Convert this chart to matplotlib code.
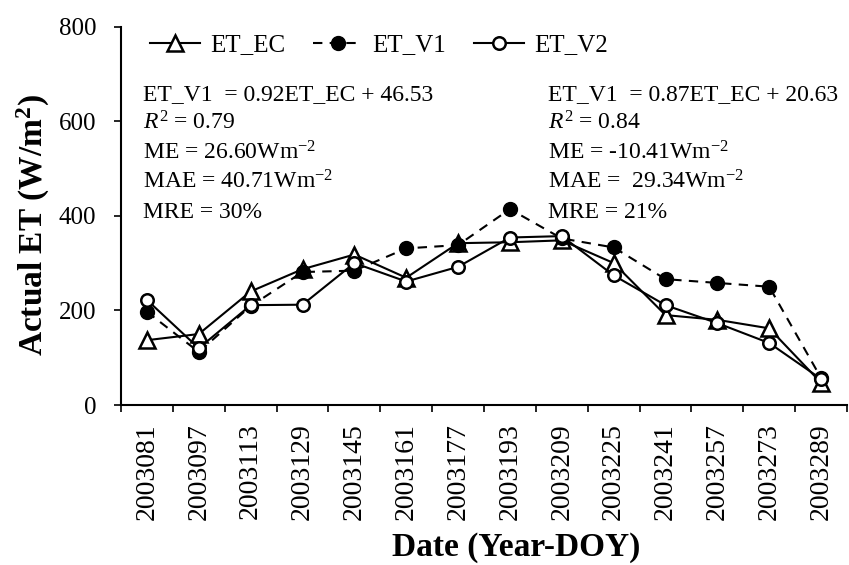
import matplotlib
matplotlib.use("Agg")
import matplotlib.pyplot as plt
import numpy as np

dates = ["2003081", "2003097", "2003113", "2003129", "2003145", "2003161", "2003177",
         "2003193", "2003209", "2003225", "2003241", "2003257", "2003273", "2003289"]
et_ec = [137, 150, 240, 287, 318, 269, 342, 344, 348, 300, 190, 180, 162, 47]
et_v1 = [197, 112, 209, 281, 284, 331, 338, 414, 352, 333, 266, 258, 250, 57]
et_v2 = [222, 120, 211, 212, 300, 261, 292, 354, 357, 274, 211, 173, 131, 55]

left_txt = ["ET_V1  = 0.92ET_EC + 46.53", "$R^2$ = 0.79", "ME = 26.60Wm$^{-2}$",
            "MAE = 40.71Wm$^{-2}$", "MRE = 30%"]
right_txt = ["ET_V1  = 0.87ET_EC + 20.63", "$R^2$ = 0.84", "ME = -10.41Wm$^{-2}$",
             "MAE =  29.34Wm$^{-2}$", "MRE = 21%"]

plt.rcParams['font.family'] = ['Liberation Serif', 'DejaVu Serif']
plt.rcParams['mathtext.fontset'] = 'custom'
plt.rcParams['mathtext.rm'] = 'Liberation Serif'
plt.rcParams['mathtext.it'] = 'Liberation Serif:italic'
plt.rcParams['mathtext.bf'] = 'Liberation Serif:bold'

fig = plt.figure(figsize=(8.49, 5.65), dpi=100)
ax = fig.add_axes([121 / 849, 1 - 405 / 565, 726 / 849, 378.5 / 565])

x = np.arange(len(dates))
ax.plot(x, et_ec, '-', color='black', lw=1.5, marker='^', ms=11, mfc='white',
        mec='black', mew=1.8, label='ET_EC', zorder=3)
ax.plot(x, et_v1, '--', color='black', lw=1.5, dashes=(4.5, 3.5), marker='o', ms=10,
        mfc='black', mec='black', label='ET_V1', zorder=3)
ax.plot(x, et_v2, '-', color='black', lw=1.5, marker='o', ms=9, mfc='white',
        mec='black', mew=1.8, label='ET_V2', zorder=3)

ax.set_xlim(-0.5, len(dates) - 0.5)
ax.set_ylim(0, 800)
ax.set_yticks([0, 200, 400, 600, 800])
ax.set_xticks(x)
ax.set_xticklabels(dates, rotation=90, fontsize=20)
ax.set_xticks(np.arange(-0.5, len(dates), 1), minor=True)
ax.tick_params(axis='x', which='major', length=0, pad=13)
ax.tick_params(axis='x', which='minor', length=5, width=1.2, direction='out')
ax.tick_params(axis='y', labelsize=18, length=5, width=1.2, direction='out', pad=13)
for s in ['top', 'right']:
    ax.spines[s].set_visible(False)
for s in ['left', 'bottom']:
    ax.spines[s].set_linewidth(1.5)

ax.set_ylabel('Actual ET (W/m$^\\mathbf{2}$)', fontsize=24, fontweight='bold')
ax.yaxis.set_label_coords(-0.095, 0.476)
ax.set_xlabel('Date (Year-DOY)', fontsize=24, fontweight='bold')
ax.xaxis.set_label_coords(0.544, -0.335)

fig.legend(*ax.get_legend_handles_labels(), loc='center left',
           bbox_to_anchor=(150 / 849, 1 - 45 / 565), ncol=3, frameon=False,
           fontsize=18, handlelength=2.0, columnspacing=1.1, handletextpad=0.4,
           borderpad=0, borderaxespad=0)

ys = [100, 129.5, 159, 188.5, 218]
for t, yp in zip(left_txt, ys):
    fig.text(143 / 849, 1 - yp / 565, t, fontsize=17, va='baseline', ha='left')
for t, yp in zip(right_txt, ys):
    fig.text(548 / 849, 1 - yp / 565, t, fontsize=17, va='baseline', ha='left')

fig.savefig('out.png', dpi=100)
